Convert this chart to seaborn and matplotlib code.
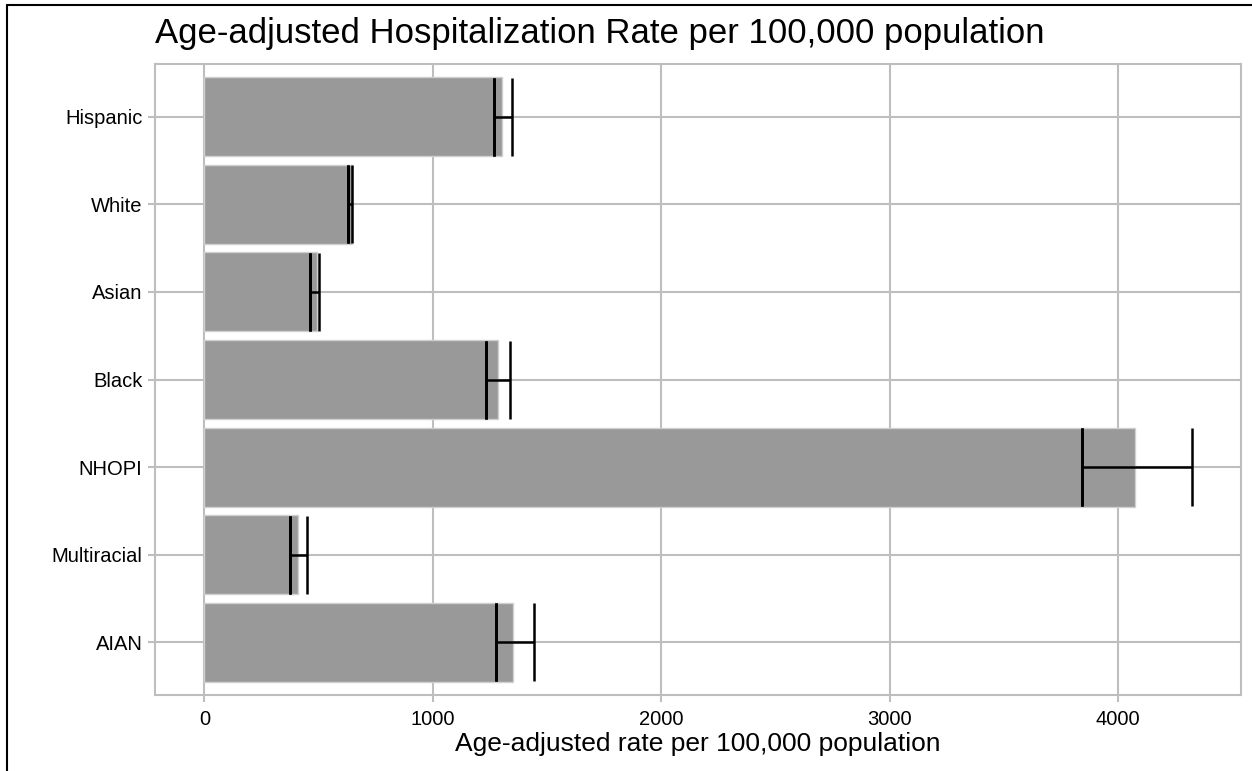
import matplotlib
matplotlib.use("Agg")
import matplotlib.pyplot as plt
import seaborn as sns
import numpy as np
import pandas as pd
from matplotlib.lines import Line2D

categories = ["Hispanic", "White", "Asian", "Black", "NHOPI", "Multiracial", "AIAN"]
rates = [1305, 648, 493, 1285, 4075, 409, 1352]
lower = [1270, 628, 461, 1235, 3841, 377, 1275]
upper = [1345, 648, 501, 1337, 4323, 450, 1442]
xticks = [0, 1000, 2000, 3000, 4000]

sns.set_theme(style="white")
plt.rcParams['font.family'] = ['Liberation Sans', 'DejaVu Sans']

df = pd.DataFrame({"group": categories, "rate": rates})

fig = plt.figure(figsize=(12.52, 7.71), dpi=100)
ax = fig.add_axes([155/1252, 1-695/771, (1241-155)/1252, (695-64)/771])

grid_c = "#bebebe"
sns.barplot(data=df, y="group", x="rate", order=categories, color="#999999",
            saturation=1, width=0.9, edgecolor="#d0d0d0", linewidth=1.0,
            errorbar=None, ax=ax, zorder=3)

pos = np.arange(len(categories))
lo = np.array(lower); hi = np.array(upper)
ax.errorbar(lo, pos, xerr=[np.zeros_like(lo), hi - lo], fmt="none",
            ecolor="black", elinewidth=1.8, capsize=28, capthick=1.8, zorder=4)
ax.errorbar(lo, pos, xerr=[np.zeros_like(lo), np.zeros_like(lo)], fmt="none",
            ecolor="black", elinewidth=1.8, capsize=28, capthick=1.8, zorder=4)

ax.set_xlim(-216, 4539)
ax.set_ylim(len(categories) - 1 + 0.6, -0.6)
ax.set_xticks(xticks)
ax.set_xticklabels([str(v) for v in xticks])
ax.grid(True, color=grid_c, linewidth=1.5, zorder=0)
ax.set_axisbelow(True)
for s in ax.spines.values():
    s.set_color(grid_c)
    s.set_linewidth(1.5)
ax.tick_params(axis="both", which="both", length=5, width=1.5, color=grid_c,
               labelsize=14.5, labelcolor="black", left=True, bottom=True)
ax.tick_params(axis="x", pad=6)
ax.tick_params(axis="y", pad=4)
ax.set_ylabel("")
ax.set_xlabel("Age-adjusted rate per 100,000 population", fontsize=19, color="black", labelpad=2)
fig.text(155/1252, 1-33/771, "Age-adjusted Hospitalization Rate per 100,000 population",
         fontsize=25, color="black", ha="left", va="center")

fig.add_artist(Line2D([7/1252, 1], [1-5/771, 1-5/771], color="black", linewidth=1.5,
                      transform=fig.transFigure))
fig.add_artist(Line2D([7/1252, 7/1252], [0, 1-5/771], color="black", linewidth=1.5,
                      transform=fig.transFigure))

fig.savefig("out.png", dpi=100)
